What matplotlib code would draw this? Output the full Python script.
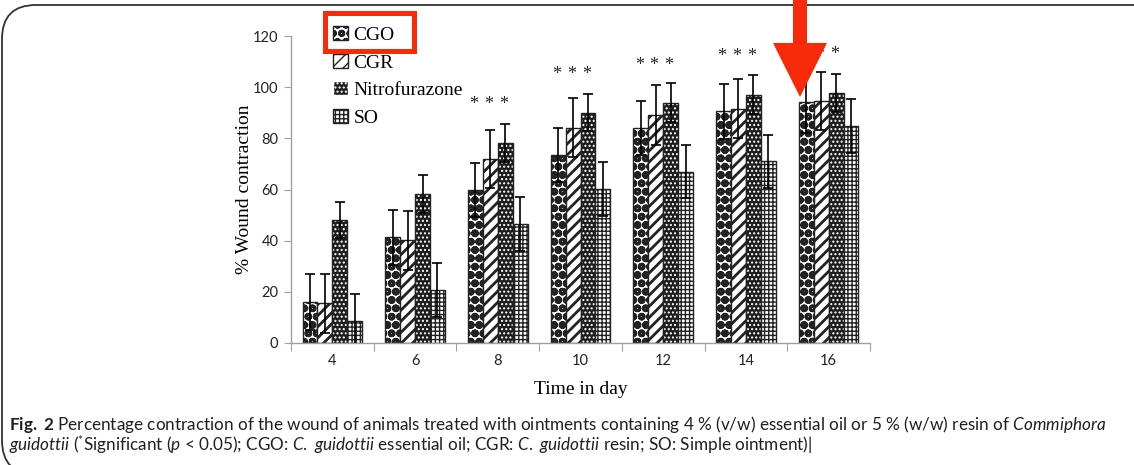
import matplotlib
matplotlib.use('Agg')
import matplotlib.pyplot as plt
import numpy as np
from matplotlib.patches import Rectangle, Polygon, FancyBboxPatch, Patch

# data
days = ['4', '6', '8', '10', '12', '14', '16']
series = ['CGO', 'CGR', 'Nitrofurazone', 'SO']
cgo = [16.1, 41.3, 59.8, 73.6, 84.0, 90.6, 94.2]
cgr = [15.5, 40.1, 71.8, 84.2, 89.0, 91.6, 94.7]
nitro = [48.1, 58.3, 78.3, 90.0, 94.0, 97.0, 97.7]
so = [8.7, 20.6, 46.5, 60.3, 67.0, 71.0, 84.8]
cgo_err = [11.0, 10.7, 10.7, 10.6, 10.7, 10.8, 12.0]
cgr_err = [11.5, 11.5, 11.3, 11.4, 11.7, 11.4, 11.3]
nitro_err = [7.2, 7.4, 7.4, 7.3, 7.6, 7.6, 7.3]
so_err = [10.5, 10.6, 10.5, 10.5, 10.5, 10.4, 10.5]
star_days = [2, 3, 4, 5, 6]
star_y = [93.3, 104.8, 108.3, 111.8, 112.6]

W, H = 1134, 465
plt.rcParams['hatch.linewidth'] = 1.0
fig = plt.figure(figsize=(W / 100, H / 100), dpi=100)
ax = fig.add_axes([291 / W, 122 / H, 579 / W, 307 / H])

x = np.arange(len(days))
bw = 0.18
edge = '#222222'
vals = [cgo, cgr, nitro, so]
errs = [cgo_err, cgr_err, nitro_err, so_err]
offs = [-1.5, -0.5, 0.5, 1.5]

# CGO: circles pattern
with plt.rc_context({'hatch.linewidth': 1.4}):
    ax.bar(x + offs[0] * bw, cgo, bw, color='white', edgecolor=edge, hatch='OOoo', lw=1.0, zorder=2)
# CGR: diagonal stripes
with plt.rc_context({'hatch.linewidth': 2.0}):
    ax.bar(x + offs[1] * bw, cgr, bw, color='white', edgecolor=edge, hatch='///', lw=1.0, zorder=2)
# Nitrofurazone: dark with white dots
ax.bar(x + offs[2] * bw, nitro, bw, color='#1c1c1c', edgecolor='white', hatch='....', lw=0, zorder=2)
ax.bar(x + offs[2] * bw, nitro, bw, fill=False, edgecolor=edge, lw=1.0, zorder=2)
# SO: grid
ax.bar(x + offs[3] * bw, so, bw, color='white', edgecolor=edge, hatch='++++', lw=1.0, zorder=2)

for v, e, o in zip(vals, errs, offs):
    ax.errorbar(x + o * bw, v, yerr=e, fmt='none', ecolor='black', elinewidth=1.2,
                capsize=3.5, capthick=1.2, zorder=3)

for d, sy in zip(star_days, star_y):
    for o in offs[:3]:
        ax.text(d + o * bw - 0.02, sy, '*', ha='center', va='center', fontsize=13,
                family='Liberation Serif', color='#222222')

ax.set_xlim(-0.5, len(days) - 0.5)
ax.set_ylim(0, 120)
ax.set_yticks(range(0, 121, 20))
ax.set_xticks(np.arange(-0.5, len(days), 1.0))
ax.set_xticklabels([])
ax.set_xticks(x, minor=True)
ax.set_xticklabels(days, minor=True)
ax.tick_params(axis='x', which='major', length=6, color='#a0a0a0', direction='out')
ax.tick_params(axis='x', which='minor', length=0, pad=8)
ax.tick_params(axis='y', length=5, color='#a0a0a0', pad=4)
for lab in ax.get_xticklabels(minor=True) + ax.get_yticklabels():
    lab.set_family('Lato')
    lab.set_fontsize(10.5)
    lab.set_color('#222222')
for s in ['top', 'right']:
    ax.spines[s].set_visible(False)
for s in ['left', 'bottom']:
    ax.spines[s].set_color('#a0a0a0')
    ax.spines[s].set_linewidth(1.0)

ax.set_ylabel('% Wound contraction', family='Liberation Serif', fontsize=14, labelpad=0)
ax.set_xlabel('Time in day', family='Liberation Serif', fontsize=14, labelpad=9)

# legend
handles = [
    Patch(facecolor='white', edgecolor=edge, hatch='OOoo'),
    Patch(facecolor='white', edgecolor=edge, hatch='///'),
    Patch(facecolor='#1c1c1c', edgecolor='white', hatch='....'),
    Patch(facecolor='white', edgecolor=edge, hatch='++++'),
]
fig.legend(handles, series, loc='upper left', bbox_to_anchor=(333 / W, 1 - 26 / H),
           frameon=False, prop={'family': 'Liberation Serif', 'size': 14},
           handlelength=0.75, handleheight=0.75, handletextpad=0.3, labelspacing=0.5,
           borderpad=0, borderaxespad=0)

# red highlight box and arrow
red = '#f72a0a'
fig.patches.append(Rectangle((325 / W, 1 - 51 / H), 89 / W, 37.5 / H, transform=fig.transFigure,
                             fill=False, edgecolor=red, lw=3.6, zorder=10))
arrow = [(793, 0), (807, 0), (807, 43), (827, 43), (800, 97), (773, 43), (793, 43)]
fig.patches.append(Polygon([(px / W, 1 - py / H) for px, py in arrow], closed=True,
                           transform=fig.transFigure, facecolor=red, edgecolor='none', zorder=10))

# page frame
fig.patches.append(FancyBboxPatch((2 / W, -0.02), 1.2, 1 - 5 / H + 0.02,
                                  boxstyle='round,pad=0,rounding_size=0.03',
                                  transform=fig.transFigure, fill=False,
                                  edgecolor='#333333', lw=1.3, zorder=0, mutation_aspect=W / H))

# caption
plt.rcParams['mathtext.fontset'] = 'custom'
plt.rcParams['mathtext.rm'] = 'Lato'
plt.rcParams['mathtext.it'] = 'Lato:italic'
plt.rcParams['mathtext.bf'] = 'Lato:bold'
cap_kw = dict(family='Lato', fontsize=12.3, color='#231f20', va='baseline', ha='left')
fig.text(9 / W, 1 - 430 / H,
         r'$\mathbf{Fig.\ 2}$ Percentage contraction of the wound of animals treated with ointments '
         r'containing 4 % (v/w) essential oil or 5 % (w/w) resin of $\mathit{Commiphora}$', **cap_kw)
fig.text(9 / W, 1 - 451 / H,
         r'$\mathit{guidottii}$ ($^{*}$Significant ($\mathit{p}$ < 0.05); CGO: $\mathit{C.\ guidottii}$ '
         r'essential oil; CGR: $\mathit{C.\ guidottii}$ resin; SO: Simple ointment)|', **cap_kw)

fig.savefig('out.png', dpi=100)
